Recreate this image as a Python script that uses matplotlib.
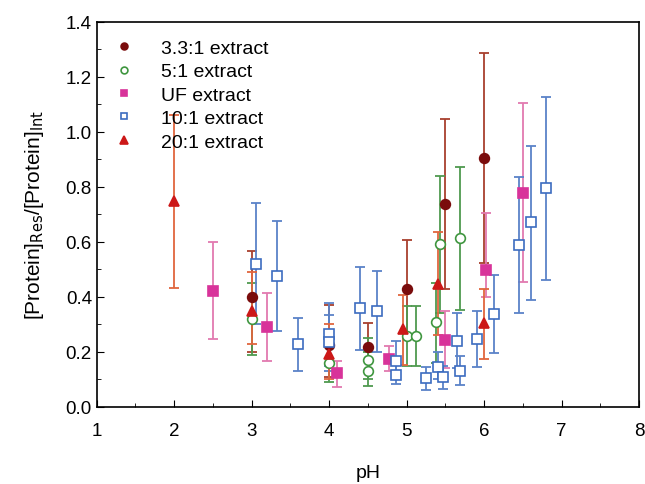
import matplotlib
matplotlib.use("Agg")
import matplotlib.pyplot as plt
import numpy as np
from matplotlib.ticker import MultipleLocator

plt.rcParams['font.family'] = ['Liberation Sans', 'DejaVu Sans']

# 3.3:1 extract
ph_33 = [3.0, 4.0, 4.5, 5.0, 5.5, 6.0]
val_33 = [0.40, 0.225, 0.218, 0.429, 0.736, 0.904]
lo_33 = [0.20, 0.11, 0.13, 0.25, 0.429, 0.524]
hi_33 = [0.568, 0.37, 0.305, 0.606, 1.045, 1.286]

# 5:1 extract
ph_5 = [3.0, 4.0, 4.5, 4.5, 5.0, 5.12, 5.38, 5.43, 5.69]
val_5 = [0.32, 0.16, 0.172, 0.132, 0.259, 0.259, 0.308, 0.593, 0.613]
lo_5 = [0.187, 0.09, 0.10, 0.077, 0.15, 0.15, 0.16, 0.34, 0.354]
hi_5 = [0.45, 0.23, 0.25, 0.20, 0.367, 0.367, 0.45, 0.839, 0.871]

# UF extract
ph_uf = [2.5, 3.2, 4.1, 4.77, 5.5, 6.02, 6.5]
val_uf = [0.423, 0.29, 0.124, 0.175, 0.244, 0.498, 0.778]
lo_uf = [0.247, 0.168, 0.071, 0.13, 0.14, 0.40, 0.453]
hi_uf = [0.601, 0.415, 0.168, 0.22, 0.347, 0.705, 1.104]

# 10:1 extract
ph_10 = [3.05, 3.32, 3.6, 4.0, 4.0, 4.4, 4.62, 4.86, 4.86, 5.25, 5.4, 5.47,
         5.65, 5.69, 5.91, 6.12, 6.45, 6.6, 6.8]
val_10 = [0.52, 0.475, 0.229, 0.265, 0.235, 0.359, 0.348, 0.168, 0.117, 0.104,
          0.145, 0.109, 0.241, 0.132, 0.247, 0.338, 0.589, 0.672, 0.795]
lo_10 = [0.30, 0.275, 0.132, 0.15, 0.13, 0.207, 0.20, 0.10, 0.085, 0.063,
         0.10, 0.065, 0.14, 0.078, 0.144, 0.196, 0.342, 0.39, 0.462]
hi_10 = [0.74, 0.675, 0.322, 0.378, 0.334, 0.51, 0.493, 0.241, 0.16, 0.144,
         0.20, 0.15, 0.34, 0.184, 0.35, 0.48, 0.835, 0.95, 1.126]

# 20:1 extract
ph_20 = [2.0, 3.0, 4.0, 4.95, 5.4, 6.0]
val_20 = [0.747, 0.35, 0.193, 0.284, 0.447, 0.304]
lo_20 = [0.433, 0.23, 0.10, 0.154, 0.26, 0.175]
hi_20 = [1.06, 0.49, 0.30, 0.405, 0.635, 0.43]

series = [
    ("3.3:1 extract", ph_33, val_33, lo_33, hi_33, 'o', '#7a0c0c', '#7a0c0c', '#a8402e', 7),
    ("5:1 extract", ph_5, val_5, lo_5, hi_5, 'o', 'white', '#3f963f', '#4f9a4f', 7),
    ("UF extract", ph_uf, val_uf, lo_uf, hi_uf, 's', '#d8339a', '#d8339a', '#e27ab0', 6.5),
    ("10:1 extract", ph_10, val_10, lo_10, hi_10, 's', 'white', '#3c6cc0', '#5a82c8', 6.5),
    ("20:1 extract", ph_20, val_20, lo_20, hi_20, '^', '#cc1818', '#cc1818', '#e0663e', 7.5),
]

fig = plt.figure(figsize=(6.45, 4.85), dpi=100)
ax = fig.add_axes([0.150, 0.159, 0.841, 0.794])

handles = []
for label, x, y, lo, hi, mk, fc, ec, errc, ms in series:
    y = np.array(y)
    yerr = [y - np.array(lo), np.array(hi) - y]
    ax.errorbar(x, y, yerr=yerr, fmt='none', ecolor=errc, elinewidth=1.3,
                capsize=3.5, capthick=1.3, zorder=2)
    h, = ax.plot(x, y, linestyle='none', marker=mk, markersize=ms,
                 markerfacecolor=fc, markeredgecolor=ec, markeredgewidth=1.2,
                 label=label, zorder=3)
    handles.append(h)

ax.set_xlim(1, 8)
ax.set_ylim(0, 1.4)
ax.xaxis.set_major_locator(MultipleLocator(1))
ax.xaxis.set_minor_locator(MultipleLocator(0.5))
ax.yaxis.set_major_locator(MultipleLocator(0.2))
ax.yaxis.set_minor_locator(MultipleLocator(0.1))
ax.yaxis.set_major_formatter(matplotlib.ticker.FormatStrFormatter('%.1f'))
ax.tick_params(which='both', direction='in', labelsize=13.5, top=False, right=False)
ax.tick_params(axis='x', pad=11)
ax.tick_params(which='major', length=5)
ax.tick_params(which='minor', length=3)
for sp in ax.spines.values():
    sp.set_linewidth(1.2)

ax.set_xlabel('pH', fontsize=14, labelpad=18)
ax.set_ylabel('[Protein]$_{\\mathrm{Res}}$/[Protein]$_{\\mathrm{Int}}$', fontsize=15, labelpad=14)

leg = ax.legend(handles=handles, loc='upper left', frameon=False, fontsize=14,
                markerscale=0.7, handlelength=1.0, handletextpad=1.4,
                labelspacing=0.3, borderaxespad=0.4, borderpad=0.5)

fig.savefig('out.png', dpi=100)
